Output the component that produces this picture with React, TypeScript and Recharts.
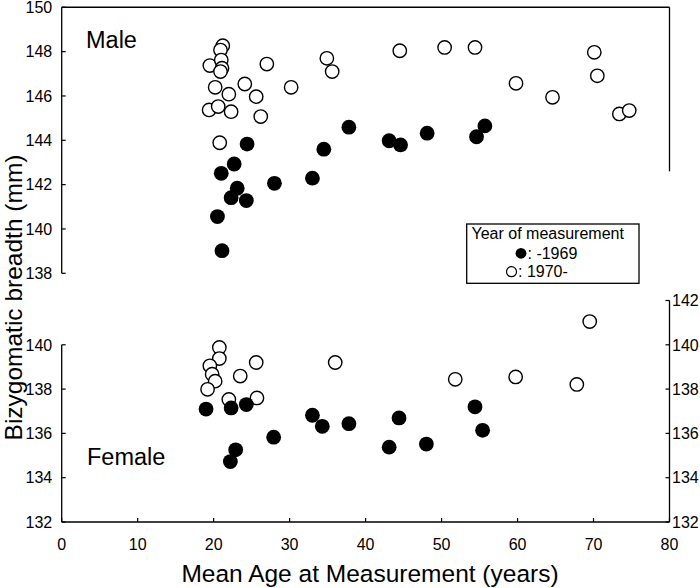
import React from 'react';
import { ScatterChart, Scatter, XAxis, YAxis, ReferenceLine } from 'recharts';

const FONT = '"Liberation Sans", Arial, Helvetica, sans-serif';

// ---- tick labels ----
const xTicks = [0, 10, 20, 30, 40, 50, 60, 70, 80];
const maleTicks = [138, 140, 142, 144, 146, 148, 150];
const femaleLeftTicks = [132, 134, 136, 138, 140];
const femaleRightTicks = [132, 134, 136, 138, 140, 142];

// ---- Male, measured up to 1969 ----
const maleOldAge = [24.4, 22.7, 21.0, 23.1, 22.3, 24.3, 28.0, 20.5, 21.1, 33.0, 34.5, 37.8, 43.1, 44.6, 48.1, 54.6, 55.7];
const maleOldBreadth = [143.83, 142.93, 142.51, 141.84, 141.41, 141.28, 142.06, 140.56, 139.02, 142.29, 143.6, 144.59, 143.98, 143.79, 144.32, 144.16, 144.65];

// ---- Male, measured 1970 onward ----
const maleNewAge = [19.5, 21.2, 20.9, 21.0, 21.1, 20.9, 20.2, 22.0, 24.1, 27.0, 30.2, 25.6, 19.4, 20.6, 22.3, 26.2, 20.8, 34.9, 35.6, 44.5, 50.4, 54.4, 59.8, 64.6, 70.1, 70.5, 73.4, 74.7];
const maleNewBreadth = [147.37, 148.27, 148.07, 147.62, 147.25, 147.1, 146.39, 146.08, 146.54, 147.44, 146.39, 145.97, 145.37, 145.52, 145.29, 145.07, 143.89, 147.7, 147.1, 148.04, 148.19, 148.19, 146.57, 145.94, 147.97, 146.91, 145.19, 145.34];

// ---- Female, measured up to 1969 ----
const femaleOldAge = [19.0, 22.3, 24.3, 27.9, 22.9, 22.2, 33.0, 34.3, 37.8, 43.1, 44.4, 48.0, 54.4, 55.4];
const femaleOldBreadth = [137.1, 137.15, 137.3, 135.83, 135.26, 134.73, 136.82, 136.32, 136.44, 135.38, 136.7, 135.52, 137.2, 136.14];

// ---- Female, measured 1970 onward ----
const femaleNewAge = [20.75, 20.75, 19.5, 19.8, 20.2, 19.2, 23.5, 25.6, 22.0, 25.7, 36.0, 51.8, 59.75, 67.8, 69.5];
const femaleNewBreadth = [139.88, 139.38, 139.05, 138.67, 138.36, 137.99, 138.59, 139.2, 137.53, 137.6, 139.2, 138.44, 138.55, 138.21, 141.05];

const zip = (xs: number[], ys: number[]) => xs.map((x, i) => ({ age: x, breadth: ys[i] }));

const maleOld = zip(maleOldAge, maleOldBreadth);
const maleNew = zip(maleNewAge, maleNewBreadth);
const femaleOld = zip(femaleOldAge, femaleOldBreadth);
const femaleNew = zip(femaleNewAge, femaleNewBreadth);

const FilledDot = (p: any) => <circle cx={p.cx} cy={p.cy} r={7.4} fill="#000" />;
const OpenDot = (p: any) => (
  <circle cx={p.cx} cy={p.cy} r={6.7} fill="#fff" stroke="#000" strokeWidth={1.4} />
);

const LeftTick = (p: any) => {
  const { x, y, payload } = p;
  return (
    <g>
      <line x1={x} y1={y} x2={x + 4} y2={y} stroke="#000" strokeWidth={1.2} />
      <text x={x - 9.5} y={y} dy="0.36em" textAnchor="end" fontSize={16} fontFamily={FONT} fill="#000">
        {payload.value}
      </text>
    </g>
  );
};

const RightTick = (p: any) => {
  const { x, y, payload } = p;
  return (
    <g>
      <line x1={x - 4} y1={y} x2={x} y2={y} stroke="#000" strokeWidth={1.2} />
      <text x={x + 2.5} y={y} dy="0.36em" textAnchor="start" fontSize={16} fontFamily={FONT} fill="#000">
        {payload.value}
      </text>
    </g>
  );
};

const BottomTick = (p: any) => {
  const { x, y, payload } = p;
  return (
    <g>
      <line x1={x} y1={y} x2={x} y2={y - 4} stroke="#000" strokeWidth={1.2} />
      <text x={x} y={y + 28} textAnchor="middle" fontSize={16} fontFamily={FONT} fill="#000">
        {payload.value}
      </text>
    </g>
  );
};

const axisStroke = { stroke: '#000', strokeWidth: 1.3 };

export default function App() {
  return (
    <div style={{ position: 'absolute', left: 0, top: 0, width: 700, height: 588, background: '#fff', fontFamily: FONT }}>
      <div style={{ position: 'absolute', left: 0, top: 0 }}>
        <ScatterChart width={700} height={290} margin={{ top: 7.3, right: 30.5, bottom: 16.7, left: 0 }}>
          <XAxis type="number" dataKey="age" domain={[0, 80]} ticks={xTicks} hide />
          <YAxis
            type="number"
            dataKey="breadth"
            domain={[138, 150]}
            ticks={maleTicks}
            interval={0}
            width={61.7}
            axisLine={axisStroke}
            tickLine={false}
            tickSize={0}
            tickMargin={0}
            tick={LeftTick}
          />
          <ReferenceLine y={150} stroke="#000" strokeWidth={1.4} />
          <ReferenceLine segment={[{ x: 80, y: 150 }, { x: 80, y: 142.6 }]} stroke="#000" strokeWidth={1.3} />
          <Scatter data={maleOld} shape={FilledDot} isAnimationActive={false} />
          <Scatter data={maleNew} shape={OpenDot} isAnimationActive={false} />
        </ScatterChart>
      </div>
      <div style={{ position: 'absolute', left: 0, top: 290 }}>
        <ScatterChart width={700} height={298} margin={{ top: 10.5, right: 0, bottom: 36, left: 0 }}>
          <XAxis
            type="number"
            dataKey="age"
            domain={[0, 80]}
            ticks={xTicks}
            interval={0}
            height={30}
            axisLine={axisStroke}
            tickLine={false}
            tickSize={0}
            tickMargin={0}
            tick={BottomTick}
          />
          <YAxis
            yAxisId="left"
            type="number"
            dataKey="breadth"
            domain={[132, 142]}
            ticks={femaleLeftTicks}
            interval={0}
            width={61.7}
            axisLine={false}
            tickLine={false}
            tickSize={0}
            tickMargin={0}
            tick={LeftTick}
          />
          <YAxis
            yAxisId="right"
            orientation="right"
            type="number"
            dataKey="breadth"
            domain={[132, 142]}
            ticks={femaleRightTicks}
            interval={0}
            width={30.5}
            axisLine={axisStroke}
            tickLine={false}
            tickSize={0}
            tickMargin={0}
            tick={RightTick}
          />
          <ReferenceLine yAxisId="left" segment={[{ x: 0, y: 132 }, { x: 0, y: 140 }]} stroke="#000" strokeWidth={1.3} />
          <Scatter yAxisId="right" data={femaleNew} shape={OpenDot} isAnimationActive={false} />
          <Scatter yAxisId="left" data={femaleOld} shape={FilledDot} isAnimationActive={false} />
        </ScatterChart>
      </div>
      <svg
        width={700}
        height={588}
        style={{ position: 'absolute', left: 0, top: 0, pointerEvents: 'none' }}
        fontFamily={FONT}
      >
        <text transform="rotate(-90)" x={-297.5} y={21.5} textAnchor="middle" fontSize={24.5} fill="#000">
          Bizygomatic breadth (mm)
        </text>
        <text x={370} y={582} textAnchor="middle" fontSize={24.5} fill="#000">
          Mean Age at Measurement (years)
        </text>
        <text x={86} y={47.7} fontSize={23.5} fill="#000">Male</text>
        <text x={87} y={465} fontSize={23.5} fill="#000">Female</text>
        <rect x={466.7} y={224} width={172.3} height={59.3} fill="#fff" stroke="#000" strokeWidth={1.3} />
        <text x={471.5} y={238.5} fontSize={16} fill="#000">Year of measurement</text>
        <circle cx={521} cy={253.3} r={5.4} fill="#000" />
        <text x={527.5} y={259} fontSize={16} fill="#000">: -1969</text>
        <circle cx={511.5} cy={271.7} r={5} fill="#fff" stroke="#000" strokeWidth={1.2} />
        <text x={518} y={277.3} fontSize={16} fill="#000">: 1970-</text>
      </svg>
    </div>
  );
}
